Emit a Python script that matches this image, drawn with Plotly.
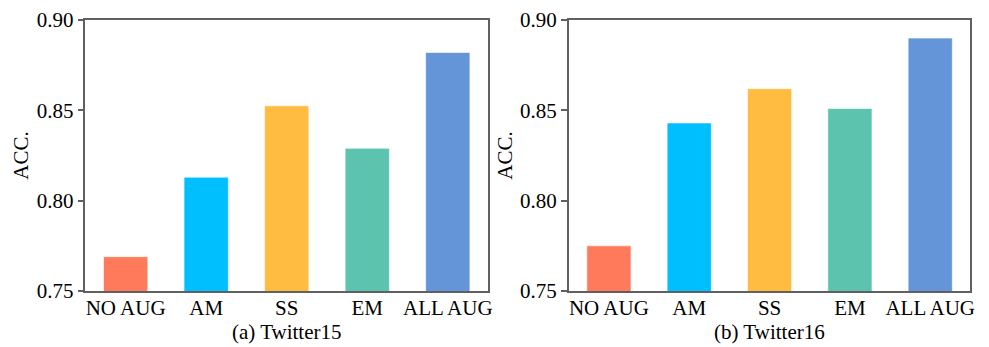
import plotly.graph_objects as go
from plotly.subplots import make_subplots

categories = ["NO AUG", "AM", "SS", "EM", "ALL AUG"]
twitter15_acc = [0.769, 0.813, 0.8525, 0.829, 0.882]
twitter16_acc = [0.775, 0.843, 0.862, 0.851, 0.890]
bar_colors = ["#FF7A5A", "#00BFFF", "#FFBC40", "#5CC4AE", "#6495D8"]
y_ticks = [0.75, 0.80, 0.85, 0.90]
y_tick_text = ["0.75", "0.80", "0.85", "0.90"]
panel_titles = ["(a) Twitter15", "(b) Twitter16"]

W, H = 989, 347
OFF = 8  # page body margin
TOP, BOTTOM = 19 - OFF, 291 - OFF  # plot area in figure pixels
fig = make_subplots(rows=1, cols=2)

for i, vals in enumerate([twitter15_acc, twitter16_acc]):
    fig.add_trace(go.Bar(
        x=categories, y=vals, width=0.55,
        marker=dict(color=bar_colors, line=dict(color="rgba(255,255,255,0.6)", width=1)),
        showlegend=False,
    ), row=1, col=i + 1)

font = dict(family="Liberation Serif, Times New Roman, serif", size=21, color="black")
axis_line = dict(showline=True, linecolor="#606060", linewidth=1.5, mirror=True)

domains = [[(85.7 - OFF) / W, (490 - OFF) / W], [(571 - OFF) / W, (974.3 - OFF) / W]]
for i in range(2):
    xa = "xaxis" if i == 0 else "xaxis2"
    ya = "yaxis" if i == 0 else "yaxis2"
    fig.layout[xa].update(
        domain=domains[i], range=[-0.5, 4.5], showgrid=False, ticks="",
        tickfont=font, ticklabelstandoff=-3, ticklabeloverflow="allow",
        **axis_line,
    )
    fig.layout[ya].update(
        range=[0.75, 0.90], tickvals=y_ticks, ticktext=y_tick_text,
        showgrid=False, ticks="outside", ticklen=6, tickwidth=1.5, tickcolor="#606060",
        tickfont=font, ticklabeloverflow="allow",
        title=dict(text="ACC.", font=font, standoff=2),
        zeroline=False, **axis_line,
    )
    fig.add_annotation(
        text=panel_titles[i], x=sum(domains[i]) / 2, xref="paper",
        y=(BOTTOM - (332 - OFF)) / (BOTTOM - TOP), yref="paper",
        yanchor="middle", xanchor="center",
        showarrow=False, font=font,
    )

fig.update_layout(
    width=W, height=H,
    margin=dict(l=0, r=0, t=TOP, b=H - BOTTOM),
    plot_bgcolor="white", paper_bgcolor="white",
    bargap=0.45,
)

fig.write_html("out.html")
